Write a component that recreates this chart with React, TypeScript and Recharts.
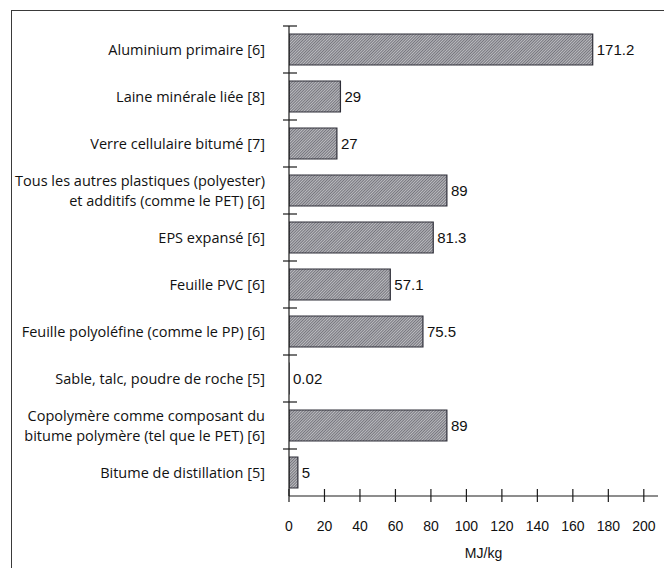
import { BarChart, Bar, XAxis, YAxis, LabelList } from 'recharts';

const categories = [
  'Aluminium primaire [6]',
  'Laine minérale liée [8]',
  'Verre cellulaire bitumé [7]',
  'Tous les autres plastiques (polyester)\net additifs (comme le PET) [6]',
  'EPS expansé [6]',
  'Feuille PVC [6]',
  'Feuille polyoléfine (comme le PP) [6]',
  'Sable, talc, poudre de roche [5]',
  'Copolymère comme composant du\nbitume polymère (tel que le PET) [6]',
  'Bitume de distillation [5]',
];
const values = [171.2, 29, 27, 89, 81.3, 57.1, 75.5, 0.02, 89, 5];
const xTicks = [0, 20, 40, 60, 80, 100, 120, 140, 160, 180, 200];

const data = categories.map((name, i) => ({ name, value: values[i] }));

const W = 664;
const H = 568;
const TOP = 26;
const AXIS_H = 72;
const BAND = (H - TOP - AXIS_H) / categories.length;
const INK = '#1c1c1c';
const labelFont = '"Open Sans", sans-serif';
const numFont = '"Liberation Sans", Arial, sans-serif';

const CategoryTick = ({ x, y, payload }: any) => {
  const lines = String(payload.value).split('\n');
  const top = y - BAND / 2;
  const first = lines.length > 1 ? -10 : 0;
  return (
    <g>
      <line x1={x - 6} x2={x + 8} y1={top} y2={top} stroke={INK} strokeWidth={1.2} />
      <text x={x - 24} y={y + first} textAnchor="end" fill="#111"
        style={{ fontFamily: labelFont, fontSize: 14.5 }}>
        {lines.map((l, i) => (
          <tspan key={i} x={x - 24} dy={i === 0 ? '0.35em' : 20}>{l}</tspan>
        ))}
      </text>
    </g>
  );
};

const ValueTick = ({ x, y, payload }: any) => (
  <g>
    <line x1={x} x2={x} y1={y - 7} y2={y + 6} stroke={INK} strokeWidth={1.2} />
    <text x={x} y={y + 30} textAnchor="middle" dy="0.35em" fill="#111"
      style={{ fontFamily: numFont, fontSize: 14 }}>
      {payload.value}
    </text>
  </g>
);

const App = () => (
  <div style={{ position: 'fixed', left: 0, top: 0, width: W, height: H, background: '#fff', overflow: 'hidden' }}>
    <div style={{
      position: 'absolute', left: 11, top: 10, width: 660, height: 600,
      border: '1.5px solid #3a3a3a', boxSizing: 'border-box',
    }} />
    <svg width={0} height={0} style={{ position: 'absolute' }}>
      <defs>
        <pattern id="hatch" patternUnits="userSpaceOnUse" width={2} height={2} patternTransform="rotate(45)">
          <rect width={2} height={2} fill="#bcbcc0" />
          <line x1={0.5} y1={0} x2={0.5} y2={2} stroke="#75757d" strokeWidth={1} />
        </pattern>
      </defs>
    </svg>
    <div style={{ position: 'absolute', left: 0, top: 0 }}>
      <BarChart width={W} height={H} data={data} layout="vertical"
        margin={{ top: TOP, right: 6, bottom: 0, left: 0 }}>
        <XAxis type="number" domain={[0, 208]} ticks={xTicks} allowDataOverflow
          height={AXIS_H} tickSize={0} tickMargin={0} tick={<ValueTick />}
          axisLine={{ stroke: INK, strokeWidth: 1.2 }}
          label={{ value: 'MJ/kg', position: 'insideBottom', offset: 10, dx: 10, fill: '#111', fontSize: 14, fontFamily: numFont }} />
        <YAxis type="category" dataKey="name" width={289} interval={0}
          tickSize={0} tickMargin={0} tick={<CategoryTick />}
          axisLine={{ stroke: INK, strokeWidth: 1.2 }} />
        <Bar dataKey="value" fill="url(#hatch)" stroke="#2e2e38" strokeWidth={1.2}
          barSize={31} isAnimationActive={false}>
          <LabelList dataKey="value" position="right" offset={4} fill="#111"
            style={{ fontFamily: numFont, fontSize: 15 }} />
        </Bar>
      </BarChart>
    </div>
  </div>
);

export default App;
